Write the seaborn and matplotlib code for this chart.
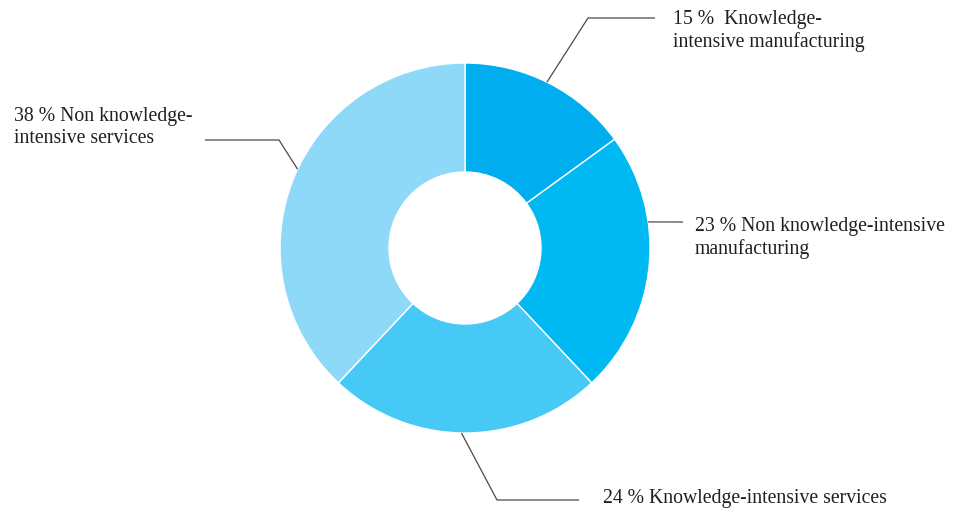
import numpy as np
import matplotlib
matplotlib.use("Agg")
import matplotlib.pyplot as plt
import seaborn as sns

# Share of total by sector group (percent)
sectors = [
    "Knowledge-intensive manufacturing",
    "Non knowledge-intensive manufacturing",
    "Knowledge-intensive services",
    "Non knowledge-intensive services",
]
shares = [15, 23, 24, 38]
label_texts = [
    "15 %  Knowledge-\nintensive manufacturing",
    "23 % Non knowledge-intensive\nmanufacturing",
    "24 % Knowledge-intensive services",
    "38 % Non knowledge-\nintensive services",
]
colors = ["#00AEEF", "#00B9F2", "#47C9F6", "#8FD9F8"]

sns.set_theme(style="white")
plt.rcParams["font.family"] = ["Liberation Serif", "DejaVu Serif"]

W, H, DPI = 960, 513, 100
fig = plt.figure(figsize=(W / DPI, H / DPI), dpi=DPI)
ax = fig.add_axes([0, 0, 1, 1])

# layout in pixels: ring centre and outer / inner radii
cx, cy, R, r_in = 465, 248, 185, 76


def to_data(px, py):
    return ((px - cx) / R, (cy - py) / R)


ax.pie(
    shares,
    colors=colors,
    startangle=90,
    counterclock=False,
    radius=1.0,
    wedgeprops=dict(width=1 - r_in / R, edgecolor="white", linewidth=1.0),
)

# pie() resets the view, so fix the limits afterwards
ax.set_xlim(-cx / R, (W - cx) / R)
ax.set_ylim(-(H - cy) / R, cy / R)
ax.set_aspect("equal")
ax.axis("off")

# leader lines: (angle on outer rim, path points in pixels),
# text anchor in pixels (left edge, baseline of last line)
leaders = [
    (63.7, [(588, 18), (655, 18)], (673, 47)),
    (8.1, [(683, 222)], (695, 254)),
    (-91.1, [(497, 500), (579, 500)], (603, 503)),
    (154.8, [(279, 140), (205, 140)], (14, 143)),
]

for (ang, path, txt_pos), text in zip(leaders, label_texts):
    a = np.deg2rad(ang)
    xs = [np.cos(a)]
    ys = [np.sin(a)]
    for p in path:
        dx, dy = to_data(*p)
        xs.append(dx)
        ys.append(dy)
    ax.plot(xs, ys, color="#4a4a4a", linewidth=0.9, solid_capstyle="butt")
    tx, ty = to_data(*txt_pos)
    ax.text(tx, ty, text, ha="left", va="baseline", fontsize=14.2,
            color="#231F20", linespacing=1.22)

fig.savefig("out.png", dpi=DPI, facecolor="white")
